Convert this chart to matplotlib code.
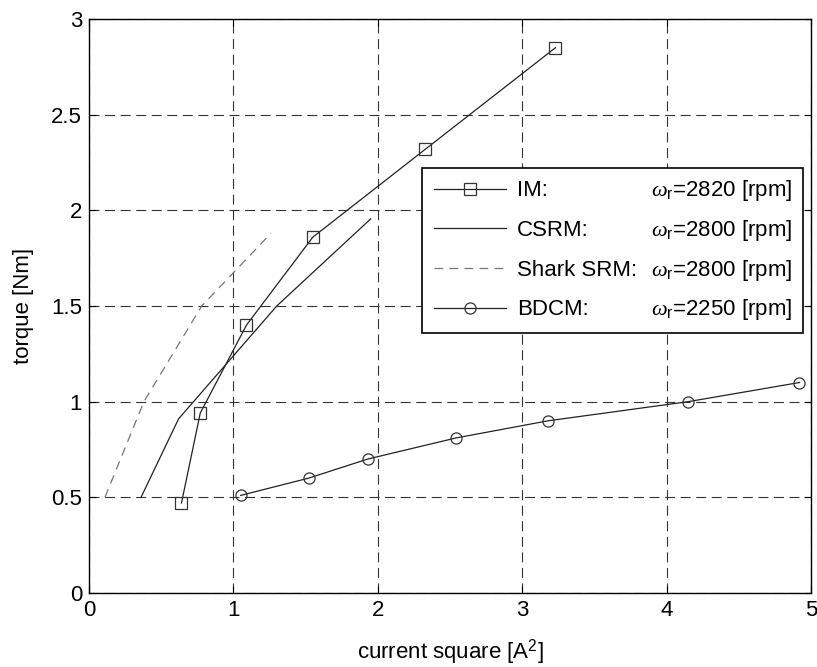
import matplotlib
matplotlib.use("Agg")
import matplotlib.pyplot as plt
from matplotlib.patches import Rectangle

plt.rcParams["font.family"] = ["Liberation Sans", "DejaVu Sans"]
plt.rcParams["mathtext.fontset"] = "custom"
plt.rcParams["mathtext.rm"] = "Liberation Sans"
plt.rcParams["mathtext.it"] = "Liberation Serif:italic"

# data
im_x = [0.64, 0.77, 1.09, 1.55, 2.33, 3.23]
im_y = [0.47, 0.94, 1.40, 1.86, 2.32, 2.85]
csrm_x = [0.36, 0.62, 1.30, 1.95]
csrm_y = [0.50, 0.91, 1.50, 1.955]
shark_x = [0.11, 0.38, 0.78, 1.26]
shark_y = [0.50, 1.00, 1.50, 1.88]
bdcm_x = [1.05, 1.52, 1.93, 2.54, 3.18, 4.15, 4.92]
bdcm_y = [0.51, 0.60, 0.70, 0.81, 0.90, 1.00, 1.10]

names = ["IM:", "CSRM:", "Shark SRM:", "BDCM:"]
speeds = ["2820", "2800", "2800", "2250"]

FS = 16
fig = plt.figure(figsize=(8.17, 6.67), dpi=100)
ax = fig.add_axes([0.109, 0.111, 0.8837, 0.8605])

lc = "#222222"
ax.plot(im_x, im_y, "-s", color=lc, lw=0.9, ms=8, mfc="none", mec="#333333", mew=0.9, label=names[0])
ax.plot(csrm_x, csrm_y, "-", color=lc, lw=0.9, label=names[1])
ax.plot(shark_x, shark_y, "--", color="#777777", lw=0.9, dashes=(7, 5), label=names[2])
ax.plot(bdcm_x, bdcm_y, "-o", color=lc, lw=0.9, ms=8, mfc="none", mec="#333333", mew=0.9, label=names[3])

ax.set_xlim(0, 5)
ax.set_ylim(0, 3)
ax.set_xticks([0, 1, 2, 3, 4, 5])
ax.set_yticks([0, 0.5, 1, 1.5, 2, 2.5, 3])
ax.set_yticklabels(["0", "0.5", "1", "1.5", "2", "2.5", "3"])
ax.grid(True, color="#333333", lw=0.8, linestyle=(0, (9, 5)))
ax.tick_params(direction="in", length=5, width=0.8, top=True, right=True, labelsize=FS, pad=5)
for s in ax.spines.values():
    s.set_linewidth(1.0)

ax.set_xlabel("current square [A$^2$]", fontsize=FS, labelpad=12)
ax.set_ylabel("torque [Nm]", fontsize=FS, labelpad=12)

# legend box
ax.add_patch(Rectangle((0.4608, 0.4535), 0.989 - 0.4608, 0.740 - 0.4535, transform=ax.transAxes,
                       facecolor="white", edgecolor="k", lw=1.2, zorder=5))
leg = ax.legend(loc="upper left", bbox_to_anchor=(0.4608, 0.740), fontsize=FS,
                frameon=False, handlelength=3.25, handletextpad=0.5, labelspacing=0.84,
                borderpad=0.55, borderaxespad=0)
leg.set_zorder(6)

fig.canvas.draw()
inv = ax.transAxes.inverted()
for t, sp in zip(leg.get_texts(), speeds):
    bb = t.get_window_extent()
    yc = inv.transform(((bb.x0 + bb.x1) / 2, (bb.y0 + bb.y1) / 2))[1]
    ax.text(0.778, yc, r"$\omega_\mathrm{r}$=" + sp + " [rpm]", transform=ax.transAxes,
            fontsize=FS, va="center", ha="left", zorder=10)

fig.savefig("out.png", dpi=100)
